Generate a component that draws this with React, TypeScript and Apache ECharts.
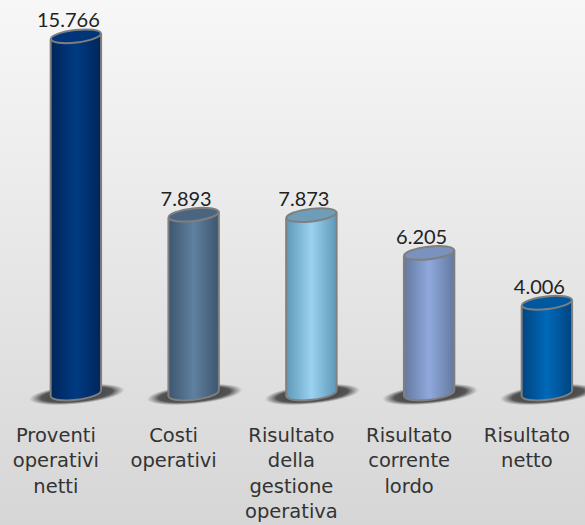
import React, { useEffect, useRef } from "react";
import * as echarts from "echarts";

const categories = [
  "Proventi\noperativi\nnetti",
  "Costi\noperativi",
  "Risultato\ndella\ngestione\noperativa",
  "Risultato\ncorrente\nlordo",
  "Risultato\nnetto",
];
const values = [15766, 7893, 7873, 6205, 4006];
const valueLabels = ["15.766", "7.893", "7.873", "6.205", "4.006"];
const edgeColors = ["#00255a", "#3d566e", "#5f97b8", "#64799f", "#00447f"];
const midColors = ["#003b82", "#5f80a0", "#9ad2f0", "#8fa9dd", "#0069b9"];
const topColors = ["#00357a", "#4a6580", "#6f9db8", "#7a92bd", "#0058a0"];

function grad(edge: string, mid: string) {
  return {
    type: "linear", x: 0, y: 0, x2: 1, y2: 0,
    colorStops: [
      { offset: 0, color: edge },
      { offset: 0.5, color: mid },
      { offset: 1, color: edge },
    ],
  };
}

export default function App() {
  const ref = useRef<HTMLDivElement>(null);
  useEffect(() => {
    document.body.style.margin = "0";
    const chart = echarts.init(ref.current!, null, { renderer: "svg" });
    chart.setOption({
      animation: false,
      backgroundColor: {
        type: "linear", x: 0, y: 0, x2: 0, y2: 1,
        colorStops: [
          { offset: 0, color: "#f7f7f7" },
          { offset: 1, color: "#d6d6d6" },
        ],
      },
      grid: { left: 17, width: 588.75, top: 31, height: 362.5, outerBoundsMode: "none" },
      xAxis: {
        type: "category",
        data: categories,
        axisLine: { show: false },
        axisTick: { show: false },
        axisLabel: {
          interval: 0, margin: 29, fontSize: 19.5, lineHeight: 25.5,
          color: "#333333", fontFamily: "'DejaVu Sans', sans-serif",
          padding: [0, 40, 0, 0],
        },
      },
      yAxis: { type: "value", min: 0, max: 16000, show: false },
      series: [
        {
          type: "custom",
          data: values.map((v, i) => [i, v]),
          encode: { x: 0, y: 1 },
          clip: false,
          renderItem: (params: any, api: any) => {
            const i = api.value(0);
            const [cx, top] = api.coord([i, api.value(1)]);
            const [, base] = api.coord([i, 0]);
            const hw = 25.2, tilt = 0.115, dy = 3, minor = 6.3;
            const grey = "#7f7f7f";
            const fill = grad(edgeColors[i], midColors[i]);
            return {
              type: "group",
              children: [
                {
                  type: "group", x: cx + 1, y: base + 1, rotation: 0.1, scaleY: 0.2,
                  children: [{
                    type: "circle",
                    shape: { cx: 0, cy: 0, r: 48 },
                    style: {
                      fill: {
                        type: "radial", x: 0.5, y: 0.5, r: 0.5,
                        colorStops: [
                          { offset: 0, color: "rgba(40,40,40,0.95)" },
                          { offset: 0.75, color: "rgba(60,60,60,0.85)" },
                          { offset: 1, color: "rgba(90,90,90,0)" },
                        ],
                      },
                    },
                  }],
                },
                {
                  type: "ellipse", x: cx, y: base, rotation: tilt,
                  shape: { cx: 0, cy: 0, rx: hw, ry: minor },
                  style: { fill, stroke: grey, lineWidth: 2 },
                },
                {
                  type: "polygon",
                  shape: { points: [[cx - hw, top + dy], [cx + hw, top - dy], [cx + hw, base - dy], [cx - hw, base + dy]] },
                  style: { fill },
                },
                { type: "line", shape: { x1: cx - hw, y1: top + dy, x2: cx - hw, y2: base + dy }, style: { stroke: grey, lineWidth: 2 } },
                { type: "line", shape: { x1: cx + hw, y1: top - dy, x2: cx + hw, y2: base - dy }, style: { stroke: grey, lineWidth: 2 } },
                {
                  type: "ellipse", x: cx, y: top, rotation: tilt,
                  shape: { cx: 0, cy: 0, rx: hw, ry: minor },
                  style: { fill: topColors[i], stroke: grey, lineWidth: 2 },
                },
                {
                  type: "text", x: cx - 7.5, y: top - 7,
                  style: {
                    text: valueLabels[i], fontSize: 20, fontFamily: "Lato, sans-serif", fill: "#222222",
                    textAlign: "center", textVerticalAlign: "bottom",
                  },
                },
              ],
            };
          },
        },
      ],
    });
    return () => chart.dispose();
  }, []);
  return <div ref={ref} style={{ width: 585, height: 525 }} />;
}
